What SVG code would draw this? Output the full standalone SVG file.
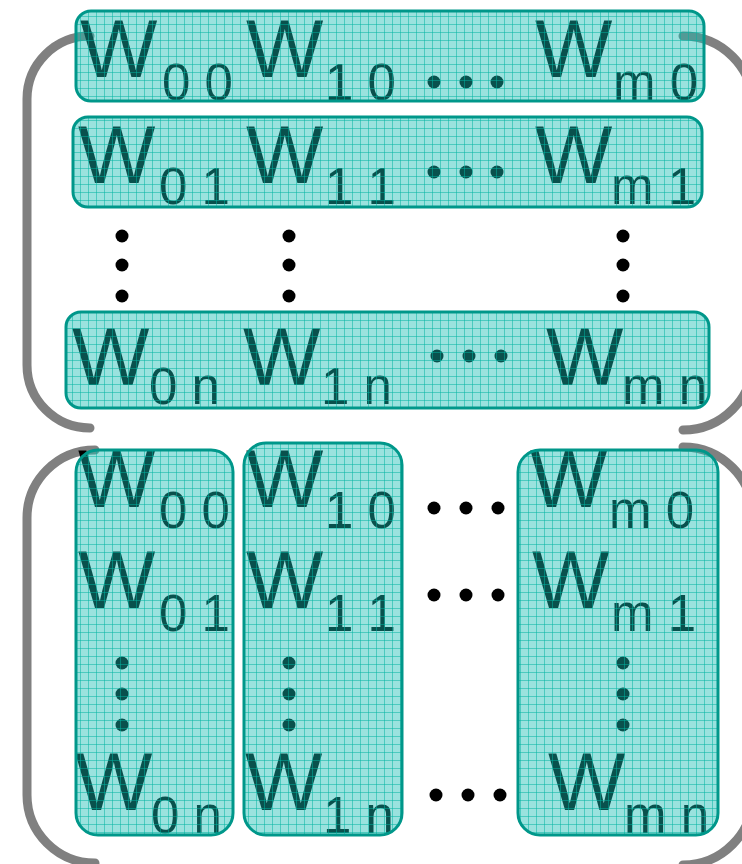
<svg xmlns="http://www.w3.org/2000/svg" width="742" height="864" viewBox="0 0 742 864">
<style>
.w{font-family:"Liberation Sans",Arial,sans-serif;font-size:82px;fill:#000}
.s{font-family:"Liberation Sans",Arial,sans-serif;font-size:51px;fill:#000}
.box{fill:url(#grid);stroke:#00978a;stroke-width:3}
.br{fill:none;stroke:#808080;stroke-width:9;stroke-linecap:round}
</style>
<defs>
<pattern id="grid" patternUnits="userSpaceOnUse" width="8" height="8">
<rect width="8" height="8" fill="#16bdb2" fill-opacity="0.43"/>
<path d="M0 0.5H8M0.5 0V8" stroke="#00b4a2" stroke-opacity="0.5" stroke-width="1"/>
</pattern>
<circle id="d" r="6.5" fill="#000"/>
</defs>
<g id="connectors">
<path class="br" d="M90 36 A63 63 0 0 0 27 99 L27 365 A63 63 0 0 0 90 428"/>
<path class="br" d="M683 36 A70 70 0 0 1 753 106 L753 360 A70 70 0 0 1 683 430"/>
<path class="br" d="M95 450 A68 68 0 0 0 27 518 L27 795 A68 68 0 0 0 95 863"/>
<path class="br" d="M683 447 A70 70 0 0 1 753 517 L753 795 A70 70 0 0 1 683 865"/>
</g>
<g id="text-top">
<text class="w" x="80" y="77">W</text><text class="s" x="162" y="100">0 0</text>
<text class="w" x="246" y="77">W</text><text class="s" x="325" y="100">1 0</text>
<use href="#d" x="434" y="82"/><use href="#d" x="466" y="82"/><use href="#d" x="497" y="82"/>
<text class="w" x="535" y="77">W</text><text class="s" x="613" y="100">m 0</text>
<text class="w" x="78" y="183">W</text><text class="s" x="159" y="204">0 1</text>
<text class="w" x="246" y="183">W</text><text class="s" x="325" y="204">1 1</text>
<use href="#d" x="434" y="172"/><use href="#d" x="466" y="172"/><use href="#d" x="497" y="172"/>
<text class="w" x="535" y="183">W</text><text class="s" x="611" y="204">m 1</text>
<use href="#d" x="122" y="236"/><use href="#d" x="122" y="265"/><use href="#d" x="122" y="296"/>
<use href="#d" x="289" y="236"/><use href="#d" x="289" y="265"/><use href="#d" x="289" y="296"/>
<use href="#d" x="623" y="236"/><use href="#d" x="623" y="265"/><use href="#d" x="623" y="296"/>
<text class="w" x="72" y="385">W</text><text class="s" x="149" y="404">0 n</text>
<text class="w" x="243" y="385">W</text><text class="s" x="321" y="404">1 n</text>
<use href="#d" x="437" y="356"/><use href="#d" x="469" y="356"/><use href="#d" x="501" y="356"/>
<text class="w" x="546" y="385">W</text><text class="s" x="622" y="404">m n</text>
</g>
<g id="text-bottom">
<text class="w" x="78" y="507">W</text><text class="s" x="159" y="528">0 0</text>
<text class="w" x="246" y="507">W</text><text class="s" x="325" y="528">1 0</text>
<use href="#d" x="434" y="508"/><use href="#d" x="466" y="508"/><use href="#d" x="498" y="508"/>
<text class="w" x="530" y="507">W</text><text class="s" x="609" y="528">m 0</text>
<text class="w" x="78" y="608">W</text><text class="s" x="159" y="631">0 1</text>
<text class="w" x="246" y="608">W</text><text class="s" x="325" y="631">1 1</text>
<use href="#d" x="434" y="595"/><use href="#d" x="466" y="595"/><use href="#d" x="498" y="595"/>
<text class="w" x="532" y="608">W</text><text class="s" x="611" y="631">m 1</text>
<use href="#d" x="122" y="663"/><use href="#d" x="122" y="694"/><use href="#d" x="122" y="725"/>
<use href="#d" x="289" y="663"/><use href="#d" x="289" y="694"/><use href="#d" x="289" y="725"/>
<use href="#d" x="623" y="663"/><use href="#d" x="623" y="694"/><use href="#d" x="623" y="725"/>
<text class="w" x="75" y="810">W</text><text class="s" x="151" y="833">0 n</text>
<text class="w" x="245" y="810">W</text><text class="s" x="323" y="833">1 n</text>
<use href="#d" x="436" y="795"/><use href="#d" x="468" y="795"/><use href="#d" x="500" y="795"/>
<text class="w" x="548" y="810">W</text><text class="s" x="624" y="833">m n</text>
</g>
<g id="row0"><rect class="box" x="76" y="11" width="628" height="90" rx="15"/></g>
<g id="row1"><rect class="box" x="73" y="117" width="629" height="90" rx="15"/></g>
<g id="rown"><rect class="box" x="66" y="312" width="643" height="96" rx="15"/></g>
<g id="col0"><rect class="box" x="76" y="450" width="157" height="385" rx="22"/></g>
<g id="col1"><rect class="box" x="244" y="443" width="158" height="392" rx="22"/></g>
<g id="colm"><rect class="box" x="518" y="450" width="200" height="385" rx="22"/></g>
</svg>
